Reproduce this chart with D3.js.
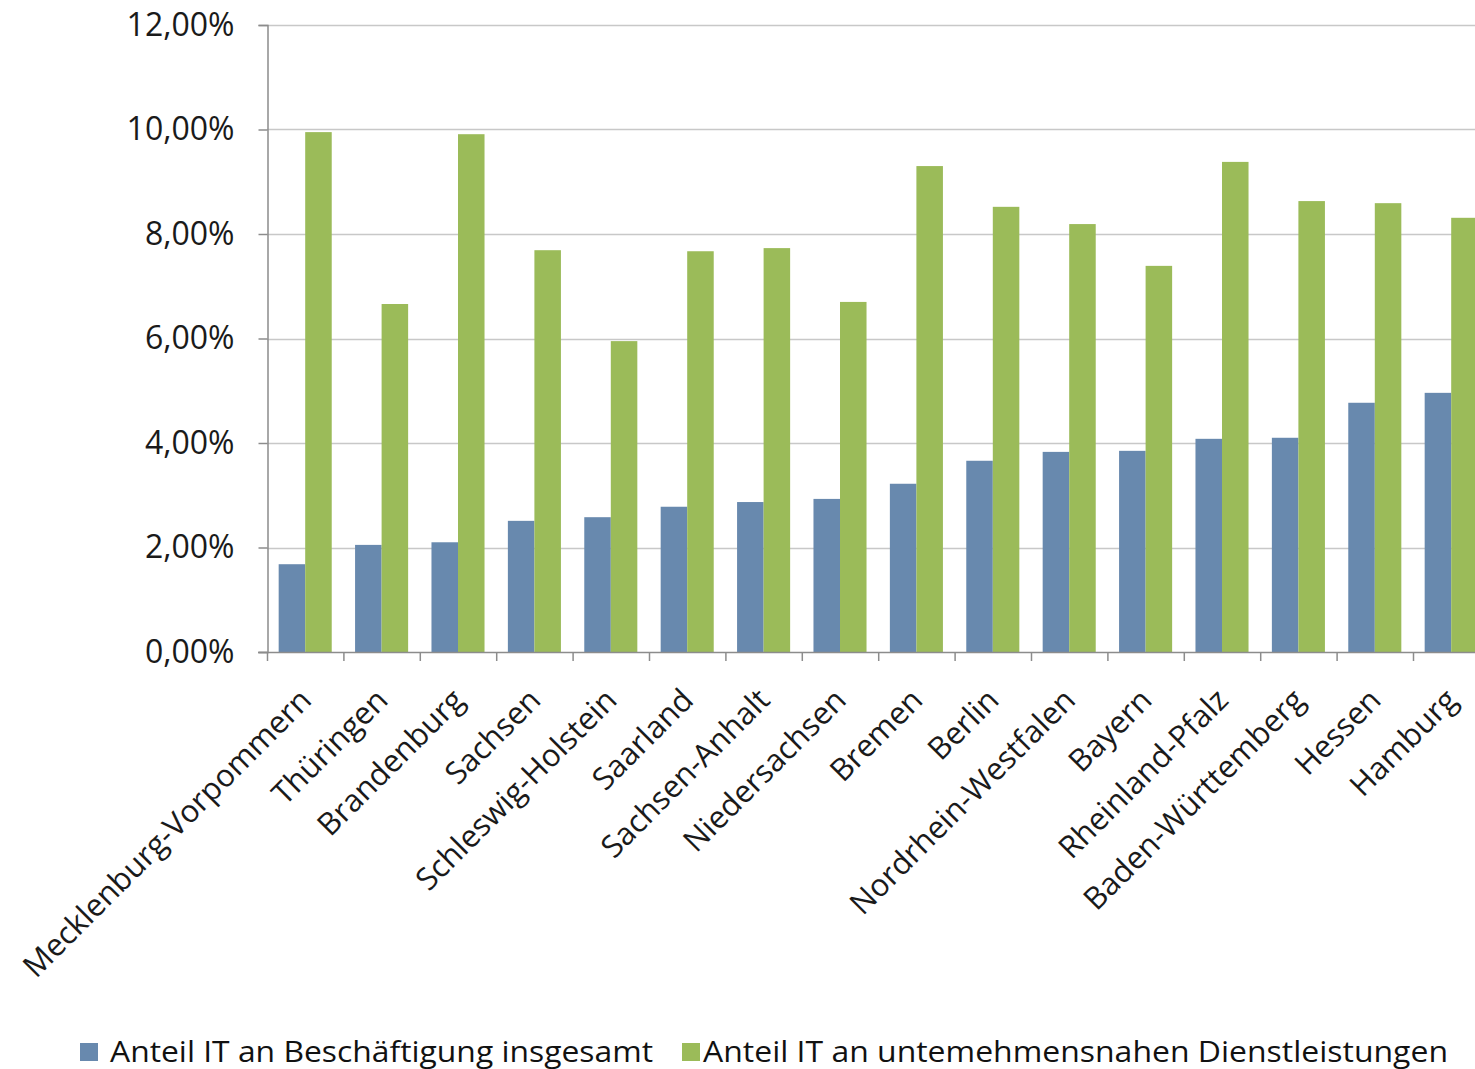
<!DOCTYPE html>
<html>
<head>
<meta charset="utf-8">
<script src="https://cdn.jsdelivr.net/npm/d3@7"></script>
<style>
  body { margin: 0; background: #fff; }
  svg { display: block; }
</style>
</head>
<body>
<script>
// categories (Bundeslaender) in the order shown
var states = ['Mecklenburg-Vorpommern', 'Thüringen', 'Brandenburg', 'Sachsen', 'Schleswig-Holstein',
  'Saarland', 'Sachsen-Anhalt', 'Niedersachsen', 'Bremen', 'Berlin', 'Nordrhein-Westfalen',
  'Bayern', 'Rheinland-Pfalz', 'Baden-Württemberg', 'Hessen', 'Hamburg'];

// series names
var seriesNames = ['Anteil IT an Beschäftigung insgesamt', 'Anteil IT an untemehmensnahen Dienstleistungen'];

// values in percent
var anteilGesamt = [1.68, 2.05, 2.10, 2.51, 2.58, 2.78, 2.87, 2.93, 3.22, 3.66, 3.83, 3.85, 4.08, 4.10, 4.77, 4.96];
var anteilDienst = [9.95, 6.66, 9.91, 7.69, 5.95, 7.67, 7.73, 6.70, 9.30, 8.52, 8.19, 7.39, 9.38, 8.63, 8.59, 8.31];

// y axis ticks
var yTicks = [0, 2, 4, 6, 8, 10, 12];

var colors = ['#6889ae', '#9bbb59'];

var W = 1475, H = 1069;
var margin = { left: 267, top: 25, bottom: 417 };
var step = 76.4;

var svg = d3.select('body').append('svg')
  .attr('width', W)
  .attr('height', H);

// build rows for the grouped bars
var rows = states.map(function(s, i) {
  return { name: s, values: [anteilGesamt[i], anteilDienst[i]] };
});

var x = d3.scaleBand()
  .domain(states)
  .range([margin.left, margin.left + step * states.length])
  .padding(0);

var x1 = d3.scaleBand()
  .domain([0, 1])
  .range([0, x.bandwidth()])
  .paddingInner(0)
  .paddingOuter(0.44);

var y = d3.scaleLinear()
  .domain([0, 12])
  .range([H - margin.bottom, margin.top]);

var fmt = function(d) { return d.toFixed(2).replace('.', ',') + '%'; };

// gridlines
svg.append('g')
  .selectAll('line')
  .data(yTicks.slice(1))
  .enter().append('line')
  .attr('x1', margin.left)
  .attr('x2', W)
  .attr('y1', function(d) { return Math.round(y(d)) + 0.5; })
  .attr('y2', function(d) { return Math.round(y(d)) + 0.5; })
  .attr('stroke', '#c8c8c8')
  .attr('stroke-width', 1.5);

// bars
var groups = svg.append('g')
  .selectAll('g')
  .data(rows)
  .enter().append('g')
  .attr('transform', function(d) { return 'translate(' + x(d.name) + ',0)'; });

groups.selectAll('rect')
  .data(function(d) { return d.values.map(function(v, k) { return { k: k, v: v }; }); })
  .enter().append('rect')
  .attr('x', function(d) { return x1(d.k); })
  .attr('width', x1.bandwidth())
  .attr('y', function(d) { return y(d.v); })
  .attr('height', function(d) { return y(0) - y(d.v); })
  .attr('fill', function(d) { return colors[d.k]; });

// y axis
var yAxis = svg.append('g')
  .attr('transform', 'translate(' + (margin.left + 0.5) + ',0)')
  .call(d3.axisLeft(y).tickValues(yTicks).tickFormat(fmt).tickSize(9).tickPadding(24));
yAxis.select('.domain').attr('stroke', '#8c8c8c').attr('stroke-width', 1.5);
yAxis.selectAll('.tick line').attr('stroke', '#8c8c8c').attr('stroke-width', 1.5);
yAxis.selectAll('.tick text')
  .attr('fill', '#1a1a1a')
  .style('font-family', '"Open Sans", sans-serif')
  .style('font-size', '32px');

// x axis: baseline and separator ticks between categories
var xBase = svg.append('g');
xBase.append('line')
  .attr('x1', margin.left - 9)
  .attr('x2', W)
  .attr('y1', Math.round(y(0)) + 0.5)
  .attr('y2', Math.round(y(0)) + 0.5)
  .attr('stroke', '#8c8c8c')
  .attr('stroke-width', 1.5);
xBase.selectAll('.sep')
  .data(states)
  .enter().append('line')
  .attr('class', 'sep')
  .attr('x1', function(d) { return x(d) + 0.5; })
  .attr('x2', function(d) { return x(d) + 0.5; })
  .attr('y1', y(0))
  .attr('y2', y(0) + 9)
  .attr('stroke', '#8c8c8c')
  .attr('stroke-width', 1.5);

// rotated category labels
svg.append('g')
  .selectAll('text')
  .data(states)
  .enter().append('text')
  .attr('transform', function(d) {
    var cx = x(d) + x.bandwidth() / 2 + 8;
    return 'translate(' + cx + ',' + (y(0) + 50) + ') rotate(-45)';
  })
  .attr('text-anchor', 'end')
  .attr('fill', '#1a1a1a')
  .style('font-family', '"Open Sans", sans-serif')
  .style('font-size', '31px')
  .text(function(d) { return d; });

// legend
var legend = svg.append('g');
var legendItems = [
  { sx: 80, tx: 110, len: 543 },
  { sx: 682, tx: 703, len: 745 }
];
legendItems.forEach(function(it, i) {
  legend.append('rect')
    .attr('x', it.sx)
    .attr('y', 1043)
    .attr('width', 18)
    .attr('height', 18)
    .attr('fill', colors[i]);
  legend.append('text')
    .attr('x', it.tx)
    .attr('y', 1062)
    .attr('textLength', it.len)
    .attr('lengthAdjust', 'spacingAndGlyphs')
    .attr('fill', '#111')
    .style('font-family', '"Open Sans", sans-serif')
    .style('font-size', '29px')
    .text(seriesNames[i]);
});
</script>
</body>
</html>
